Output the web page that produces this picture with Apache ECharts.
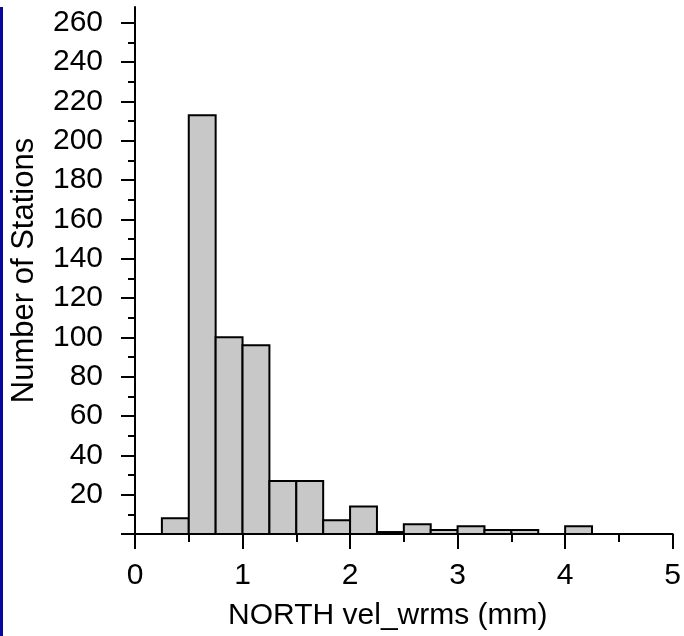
<!DOCTYPE html>
<html>
<head>
<meta charset="utf-8">
<script src="https://cdn.jsdelivr.net/npm/echarts@6/dist/echarts.min.js"></script>
<style>
  html, body { margin: 0; padding: 0; background: #fff; }
  #chart { width: 684px; height: 636px; }
</style>
</head>
<body>
<div id="chart"></div>
<script>
// histogram bins (mm), width 0.25
const binStart = [0.25, 0.5, 0.75, 1.0, 1.25, 1.5, 1.75, 2.0, 2.25, 2.5, 2.75, 3.0, 3.25, 3.5, 3.75, 4.0];
const binEnd = [0.5, 0.75, 1.0, 1.25, 1.5, 1.75, 2.0, 2.25, 2.5, 2.75, 3.0, 3.25, 3.5, 3.75, 4.0, 4.25];
const counts = [8, 213, 100, 96, 27, 27, 7, 14, 1, 5, 2, 4, 2, 2, 0, 4];

const yMajorTicks = [0, 20, 40, 60, 80, 100, 120, 140, 160, 180, 200, 220, 240, 260];
const yLabels = [20, 40, 60, 80, 100, 120, 140, 160, 180, 200, 220, 240, 260];
const yMinorTicks = [10, 30, 50, 70, 90, 110, 130, 150, 170, 190, 210, 230, 250];

const font = "Liberation Sans";

const myChart = echarts.init(document.getElementById("chart"));

const barData = [];
for (let i = 0; i < counts.length; i++) {
  barData.push([binStart[i], binEnd[i], counts[i]]);
}

const option = {
  animation: false,
  graphic: [
    // blue strip on the left edge
    { type: "rect", left: 0, top: 7, shape: { width: 3, height: 629 }, style: { fill: "#0808a0" } },
  ],
  grid: { left: 135, right: 11, top: 7, bottom: 102 },
  xAxis: {
    type: "value",
    min: 0,
    max: 5,
    interval: 1,
    splitLine: { show: false },
    axisLine: { lineStyle: { color: "#000", width: 2 } },
    axisTick: { length: 15, lineStyle: { color: "#000", width: 2 } },
    minorTick: { show: true, splitNumber: 2, length: 8, lineStyle: { color: "#000", width: 2 } },
    axisLabel: { color: "#000", fontFamily: font, fontSize: 30, margin: 27 },
    name: "NORTH vel_wrms (mm)",
    nameLocation: "middle",
    nameGap: 67,
    nameTextStyle: { color: "#000", fontFamily: font, fontSize: 30, padding: [0, 32, 0, 0] },
  },
  yAxis: [
    {
      type: "value",
      min: 0,
      max: 268,
      splitLine: { show: false },
      axisLine: { show: true, lineStyle: { color: "#000", width: 2 } },
      axisTick: { show: true, length: 14, customValues: yMajorTicks, lineStyle: { color: "#000", width: 2 } },
      axisLabel: { color: "#000", fontFamily: font, fontSize: 30, margin: 32, customValues: yLabels },
      name: "Number of Stations",
      nameLocation: "middle",
      nameGap: 95,
      nameTextStyle: { color: "#000", fontFamily: font, fontSize: 31 },
    },
    {
      type: "value",
      min: 0,
      max: 268,
      position: "left",
      splitLine: { show: false },
      axisLine: { show: false },
      axisTick: { show: true, length: 7, customValues: yMinorTicks, lineStyle: { color: "#000", width: 2 } },
      axisLabel: { show: false },
    },
  ],
  series: [
    {
      type: "custom",
      data: barData,
      encode: { x: [0, 1], y: 2 },
      renderItem: function (params, api) {
        const v = api.value(2);
        if (!v) return null;
        const p0 = api.coord([api.value(0), v]);
        const p1 = api.coord([api.value(1), 0]);
        return {
          type: "rect",
          shape: { x: p0[0], y: p0[1], width: p1[0] - p0[0], height: p1[1] - p0[1] },
          style: { fill: "#c8c8c8", stroke: "#000", lineWidth: 2 },
        };
      },
    },
  ],
};

myChart.setOption(option);
</script>
</body>
</html>
